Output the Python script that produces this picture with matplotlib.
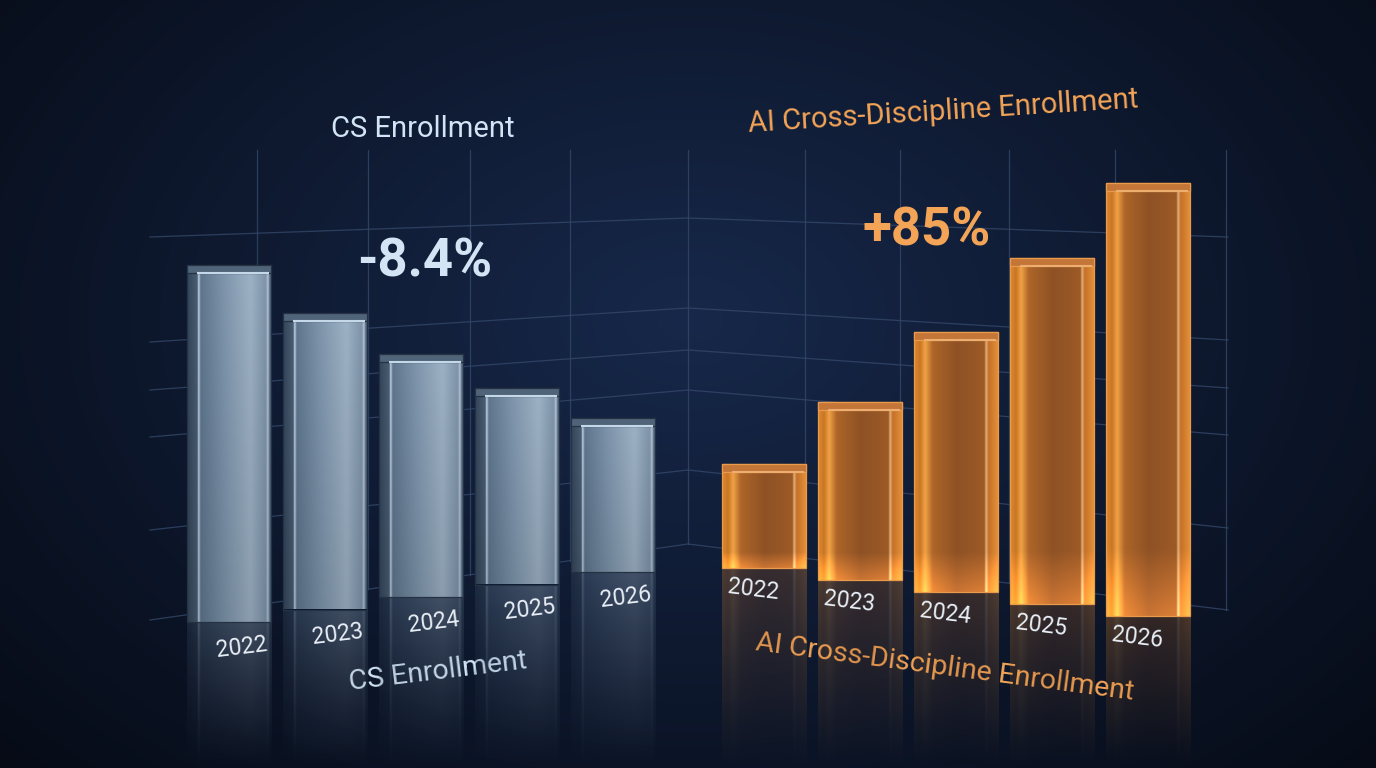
import numpy as np
import matplotlib.pyplot as plt
from matplotlib.colors import to_rgb

# Datos del gráfico (índices relativos, sin eje visible)
years = ["2022", "2023", "2024", "2025", "2026"]
cs_enrollment = [100, 83, 68, 55, 43]
ai_enrollment = [24, 41, 60, 80, 100]
cs_change = "-8.4%"
ai_change = "+85%"
cs_title = "CS Enrollment"
ai_title = "AI Cross-Discipline Enrollment"

W, H = 1376, 768

# Colores
BG_CENTER = "#17284a"
BG_EDGE = "#060b16"
GRID = "#34486a"
CS_TEXT = "#d3e5f5"
AI_TEXT = "#f3a457"
YEAR_TEXT = "#e9eff6"

steel_stops = [(0.0, "#34455a"), (0.12, "#4a5d73"), (0.135, "#c6d9e9"), (0.16, "#5f768e"),
               (0.45, "#7f96ad"), (0.75, "#9eb2c5"), (0.93, "#7f94aa"), (0.955, "#b5c8d9"),
               (0.975, "#566b82"), (1.0, "#42546a")]
amber_stops = [(0.0, "#e08a2d"), (0.07, "#c97526"), (0.13, "#f0a244"), (0.22, "#ad6529"),
               (0.5, "#8f5225"), (0.83, "#9c5a26"), (0.85, "#e6b27a"), (0.88, "#c3712a"), (1.0, "#e8923a")]

# Geometría de la "pared" trasera (decoración en píxeles)
WALL_X = (150, 688, 1228)
WALL_LEFT_Y = [237, 342, 390, 437, 530, 620]
WALL_MID_Y = [218, 308, 350, 390, 470, 544]
WALL_RIGHT_Y = [237, 340, 388, 435, 528, 610]
WALL_VERT_X = [257, 368, 470, 570, 688, 805, 900, 1009, 1115, 1226]
WALL_TOP = 150


def gradient_rgb(stops, n=240):
    pos = np.array([s[0] for s in stops])
    cols = np.array([to_rgb(s[1]) for s in stops])
    t = np.linspace(0, 1, n)
    return np.stack([np.interp(t, pos, cols[:, k]) for k in range(3)], axis=1)


def fill_patch(ax, patch, stops, a_top=1.0, a_bot=1.0, glow=0.0, shade=0.0, z=3):
    x0, y0 = patch.get_x(), patch.get_y()
    w, h = patch.get_width(), patch.get_height()
    ymin, ymax = min(y0, y0 + h), max(y0, y0 + h)
    row = gradient_rgb(stops)
    ny = 120
    img = np.zeros((ny, row.shape[0], 4))
    vy = np.linspace(0, 1, ny)[:, None]  # 0 arriba, 1 abajo
    boost = 1 + glow * np.clip((vy - 0.85) / 0.15, 0, 1) - shade * vy
    img[..., :3] = np.clip(row[None, :, :] * boost[..., None], 0, 1)
    img[..., 3] = np.linspace(a_top, a_bot, ny)[:, None]
    im = ax.imshow(img, extent=(x0, x0 + w, ymin, ymax), origin="upper",
                   aspect="auto", zorder=z, interpolation="bilinear")
    im.set_clip_path(patch)


def draw_panel(ax, values, ppu, floor0_px, floor_step_px, stops, cap_color, cap_line,
               edge, label_dx_px, label_dy_px, label_rot, glow, shade, refl_alpha):
    n = len(values)
    floors = [(floor0_px + floor_step_px * i) / ppu for i in range(n)]
    x = np.arange(n)
    width = 0.88

    # Reflejos en el suelo
    refl = ax.bar(x, [-f for f in floors], bottom=floors, width=width, color="none",
                  edgecolor="none", zorder=2)
    for p in refl.patches:
        fill_patch(ax, p, stops, a_top=refl_alpha, a_bot=0.0, shade=0.2, z=2)

    # Barras principales
    bars = ax.bar(x, values, bottom=floors, width=width, color="none",
                  edgecolor=edge, linewidth=0.9, zorder=4)
    for p in bars.patches:
        fill_patch(ax, p, stops, glow=glow, shade=shade, z=3)

    # Cara superior
    cap_h = 8 / ppu
    tops = [f + v for f, v in zip(floors, values)]
    ax.bar(x, [cap_h] * n, bottom=[t - cap_h for t in tops], width=width,
           color=cap_color, edgecolor=edge, linewidth=0.9, zorder=5)
    for xi, t in zip(x, tops):
        ax.plot([xi - width / 2 + 0.12 * width, xi + width / 2 - 0.03 * width],
                [t - cap_h, t - cap_h], color=cap_line, lw=1.5, zorder=6,
                solid_capstyle="butt")

    # Años bajo cada barra
    for i, (xi, f) in enumerate(zip(x, floors)):
        ax.text(xi + label_dx_px / 96, f - label_dy_px / ppu, years[i],
                ha="center", va="center", rotation=label_rot, rotation_mode="anchor",
                fontsize=16.5, color=YEAR_TEXT, family=["Roboto", "DejaVu Sans"], zorder=7)


fig = plt.figure(figsize=(W / 100, H / 100), dpi=100)

# Fondo con degradado radial
bg = fig.add_axes([0, 0, 1, 1])
yy, xx = np.mgrid[0:H, 0:W]
r = np.sqrt(((xx - 690) / 950) ** 2 + ((yy - 320) / 650) ** 2)
r = np.clip(r, 0, 1)[..., None]
c0, c1 = np.array(to_rgb(BG_CENTER)), np.array(to_rgb(BG_EDGE))
bg.imshow(c0 * (1 - r) + c1 * r, extent=(0, W, H, 0), aspect="auto", zorder=0)
bg.set_xlim(0, W)
bg.set_ylim(H, 0)
bg.axis("off")

# Rejilla de la pared trasera
for yl, ym, yr in zip(WALL_LEFT_Y, WALL_MID_Y, WALL_RIGHT_Y):
    bg.plot(WALL_X, [yl, ym, yr], color=GRID, lw=0.9, alpha=0.8, zorder=1)
for vx in WALL_VERT_X:
    if vx <= WALL_X[1]:
        fy = np.interp(vx, WALL_X[:2], [WALL_LEFT_Y[-1], WALL_MID_Y[-1]])
    else:
        fy = np.interp(vx, WALL_X[1:], [WALL_MID_Y[-1], WALL_RIGHT_Y[-1]])
    bg.plot([vx, vx], [WALL_TOP, fy], color=GRID, lw=0.9, alpha=0.8, zorder=1)

# Panel izquierdo (CS)
ax_cs = fig.add_axes([150 / W, 0, 538 / W, 618 / H])
ax_cs.set_facecolor("none")
ppu_cs = 3.57
draw_panel(ax_cs, cs_enrollment, ppu_cs, 146, 12.5, steel_stops, "#506479", "#c5d8e9",
           "#243243", 13, 25, 7, glow=0.0, shade=0.12, refl_alpha=0.36)
ax_cs.set_xlim((150 - 229) / 96, (688 - 229) / 96)
ax_cs.set_ylim(0, 618 / ppu_cs)
ax_cs.axis("off")

# Panel derecho (AI)
ax_ai = fig.add_axes([688 / W, 0, 552 / W, 618 / H])
ax_ai.set_facecolor("none")
ppu_ai = 4.33
draw_panel(ax_ai, ai_enrollment, ppu_ai, 200, -12, amber_stops, "#c47639", "#eeae70",
           "#e99a4a", -11, 22, -7, glow=0.4, shade=0.0, refl_alpha=0.3)
ax_ai.set_xlim((688 - 764) / 96, (1240 - 764) / 96)
ax_ai.set_ylim(0, 618 / ppu_ai)
ax_ai.axis("off")

# Títulos y variaciones
regular = ["Roboto", "DejaVu Sans"]
bg.text(423, 129, cs_title, ha="center", va="center", fontsize=21, color=CS_TEXT, family=regular, zorder=8)
bg.text(943, 112, ai_title, ha="center", va="center", fontsize=21, color=AI_TEXT, family=regular,
        rotation=3.6, rotation_mode="anchor", zorder=8)
bg.text(425, 262, cs_change, ha="center", va="center", fontsize=38, fontweight="bold",
        color=CS_TEXT, family=regular, zorder=8)
bg.text(927, 231, ai_change, ha="center", va="center", fontsize=38, fontweight="bold",
        color=AI_TEXT, family=regular, zorder=8)
bg.text(438, 672, cs_title, ha="center", va="center", fontsize=20.5, color=CS_TEXT, family=regular,
        rotation=7, rotation_mode="anchor", zorder=8)
bg.text(945, 667, ai_title, ha="center", va="center", fontsize=20.5, color=AI_TEXT, family=regular,
        rotation=-7.5, rotation_mode="anchor", zorder=8)

fig.savefig("out.png", dpi=100, facecolor=BG_EDGE)
